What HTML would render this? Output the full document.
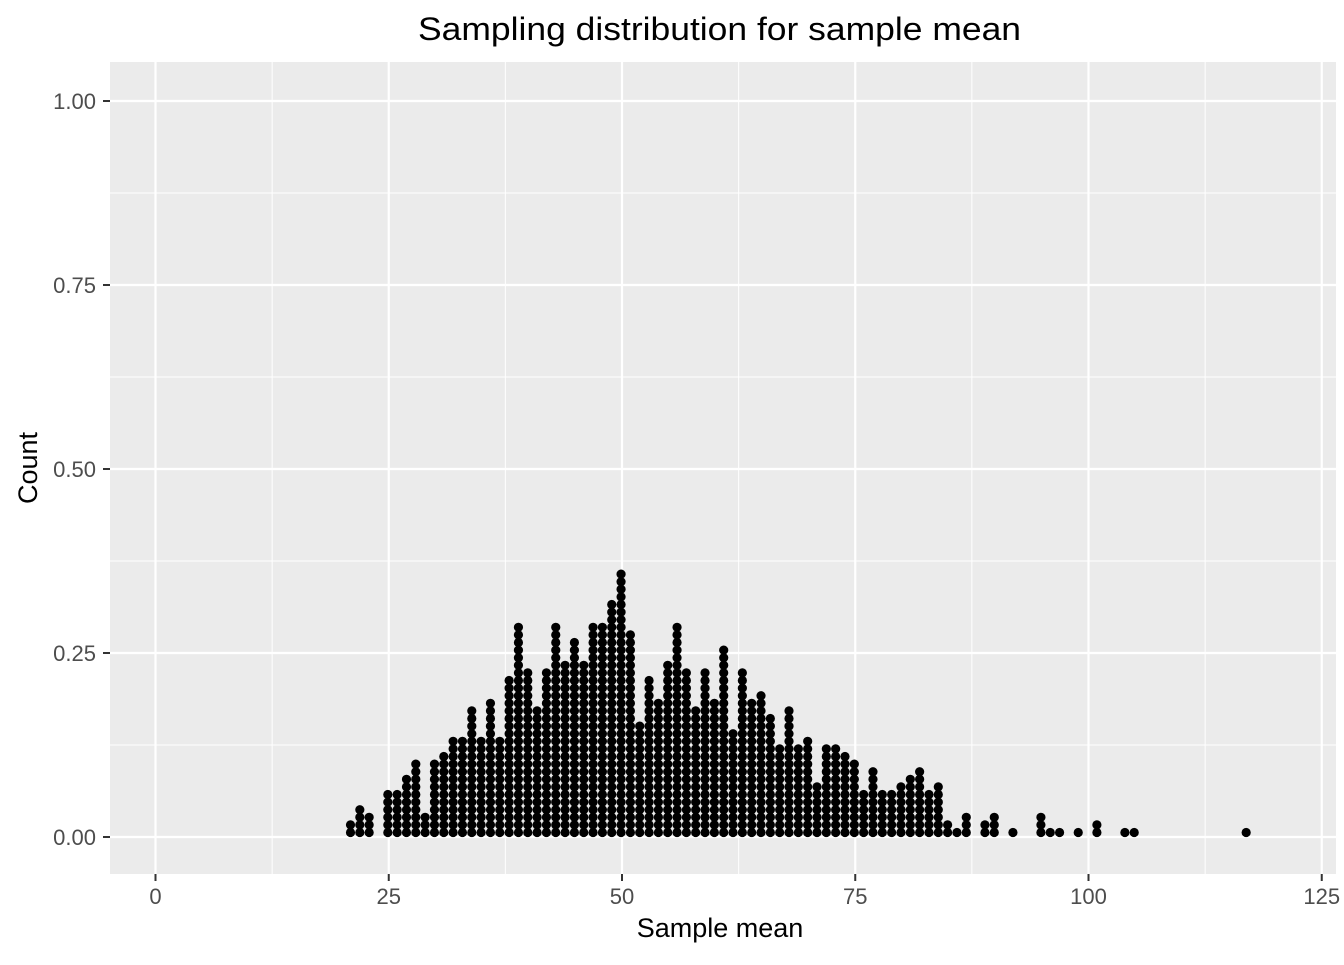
<!DOCTYPE html>
<html><head><meta charset="utf-8"><style>
body{margin:0;background:#fff;}
svg text{font-family:"Liberation Sans",sans-serif;}
</style></head><body>
<svg id="chart" width="1344" height="960" xmlns="http://www.w3.org/2000/svg">
<rect x="0" y="0" width="1344" height="960" fill="#fff"/>
<rect x="110" y="62" width="1226" height="812" fill="#ebebeb"/>
<g id="grid"></g>
<g id="dots"></g>
<g id="axes"></g>
<text x="418" y="40" font-size="32" textLength="603" lengthAdjust="spacingAndGlyphs" fill="#000">Sampling distribution for sample mean</text>
<text x="720" y="937" font-size="27" text-anchor="middle" fill="#000">Sample mean</text>
<text x="0" y="0" font-size="27" text-anchor="middle" fill="#000" transform="translate(37,468) rotate(-90)">Count</text>
</svg>
<script>
const xValues=[21,22,23,25,26,27,28,29,30,31,32,33,34,35,36,37,38,39,40,41,42,43,44,45,46,47,48,49,50,51,52,53,54,55,56,57,58,59,60,61,62,63,64,65,66,67,68,69,70,71,72,73,74,75,76,77,78,79,80,81,82,83,84,85,86,87,89,90,92,95,96,97,99,101,104,105,117];
const counts=[2,4,3,6,6,8,10,3,10,11,13,13,17,13,18,13,21,28,22,17,22,28,23,26,23,28,28,31,35,27,15,21,18,23,28,22,17,22,18,25,14,22,18,19,16,12,17,12,13,7,12,12,11,10,6,9,6,6,7,8,9,6,7,2,1,3,2,3,1,3,1,1,1,2,1,1,1];
const xTicks=[0,25,50,75,100,125];
const yTicks=[0,0.25,0.5,0.75,1];
const yTickLabels=["0.00","0.25","0.50","0.75","1.00"];
const NS="http://www.w3.org/2000/svg";
const sx=v=>155.5+9.33*v;
const sy=v=>837-736*v;
function mk(t,a,p){const e=document.createElementNS(NS,t);for(const k in a)e.setAttribute(k,a[k]);p.appendChild(e);return e;}
const grid=document.getElementById('grid'),axes=document.getElementById('axes'),dots=document.getElementById('dots');
for(let i=0;i<yTicks.length;i++){
  if(i<yTicks.length-1){const m=mk('line',{x1:110,x2:1336,y1:sy((yTicks[i]+yTicks[i+1])/2),y2:sy((yTicks[i]+yTicks[i+1])/2),stroke:'#fff','stroke-width':1},grid);
  
  }
  const l=mk('line',{x1:110,x2:1336,y1:sy(yTicks[i]),y2:sy(yTicks[i]),stroke:'#fff','stroke-width':2.2},grid);
  
  
  const tk=mk('line',{x1:103,x2:110,y1:sy(yTicks[i]),y2:sy(yTicks[i]),stroke:'#333','stroke-width':2},axes);
  
  
  const t=mk('text',{x:96,y:sy(yTicks[i])+8,'font-size':22,'text-anchor':'end',fill:'#4d4d4d'},axes);
  t.textContent=yTickLabels[i];
  
  
}
for(let i=0;i<xTicks.length;i++){
  if(i<xTicks.length-1){const m=mk('line',{y1:62,y2:874,x1:sx((xTicks[i]+xTicks[i+1])/2),x2:sx((xTicks[i]+xTicks[i+1])/2),stroke:'#fff','stroke-width':1},grid);
  
  }
  const l=mk('line',{y1:62,y2:874,x1:sx(xTicks[i]),x2:sx(xTicks[i]),stroke:'#fff','stroke-width':2.2},grid);
  
  
  const tk=mk('line',{y1:874,y2:881,x1:sx(xTicks[i]),x2:sx(xTicks[i]),stroke:'#333','stroke-width':2},axes);
  
  
  const t=mk('text',{x:sx(xTicks[i]),y:904,'font-size':22,'text-anchor':'middle',fill:'#4d4d4d'},axes);
  t.textContent=String(xTicks[i]);
  
  
}
for(let i=0;i<xValues.length;i++){
  for(let k=0;k<counts[i];k++){
    const c=mk('circle',{cx:sx(xValues[i]-0.1),cy:832.5-7.6*k,r:4.6,fill:'#000'},dots);
    
    
  }
}
</script>
</body></html>
